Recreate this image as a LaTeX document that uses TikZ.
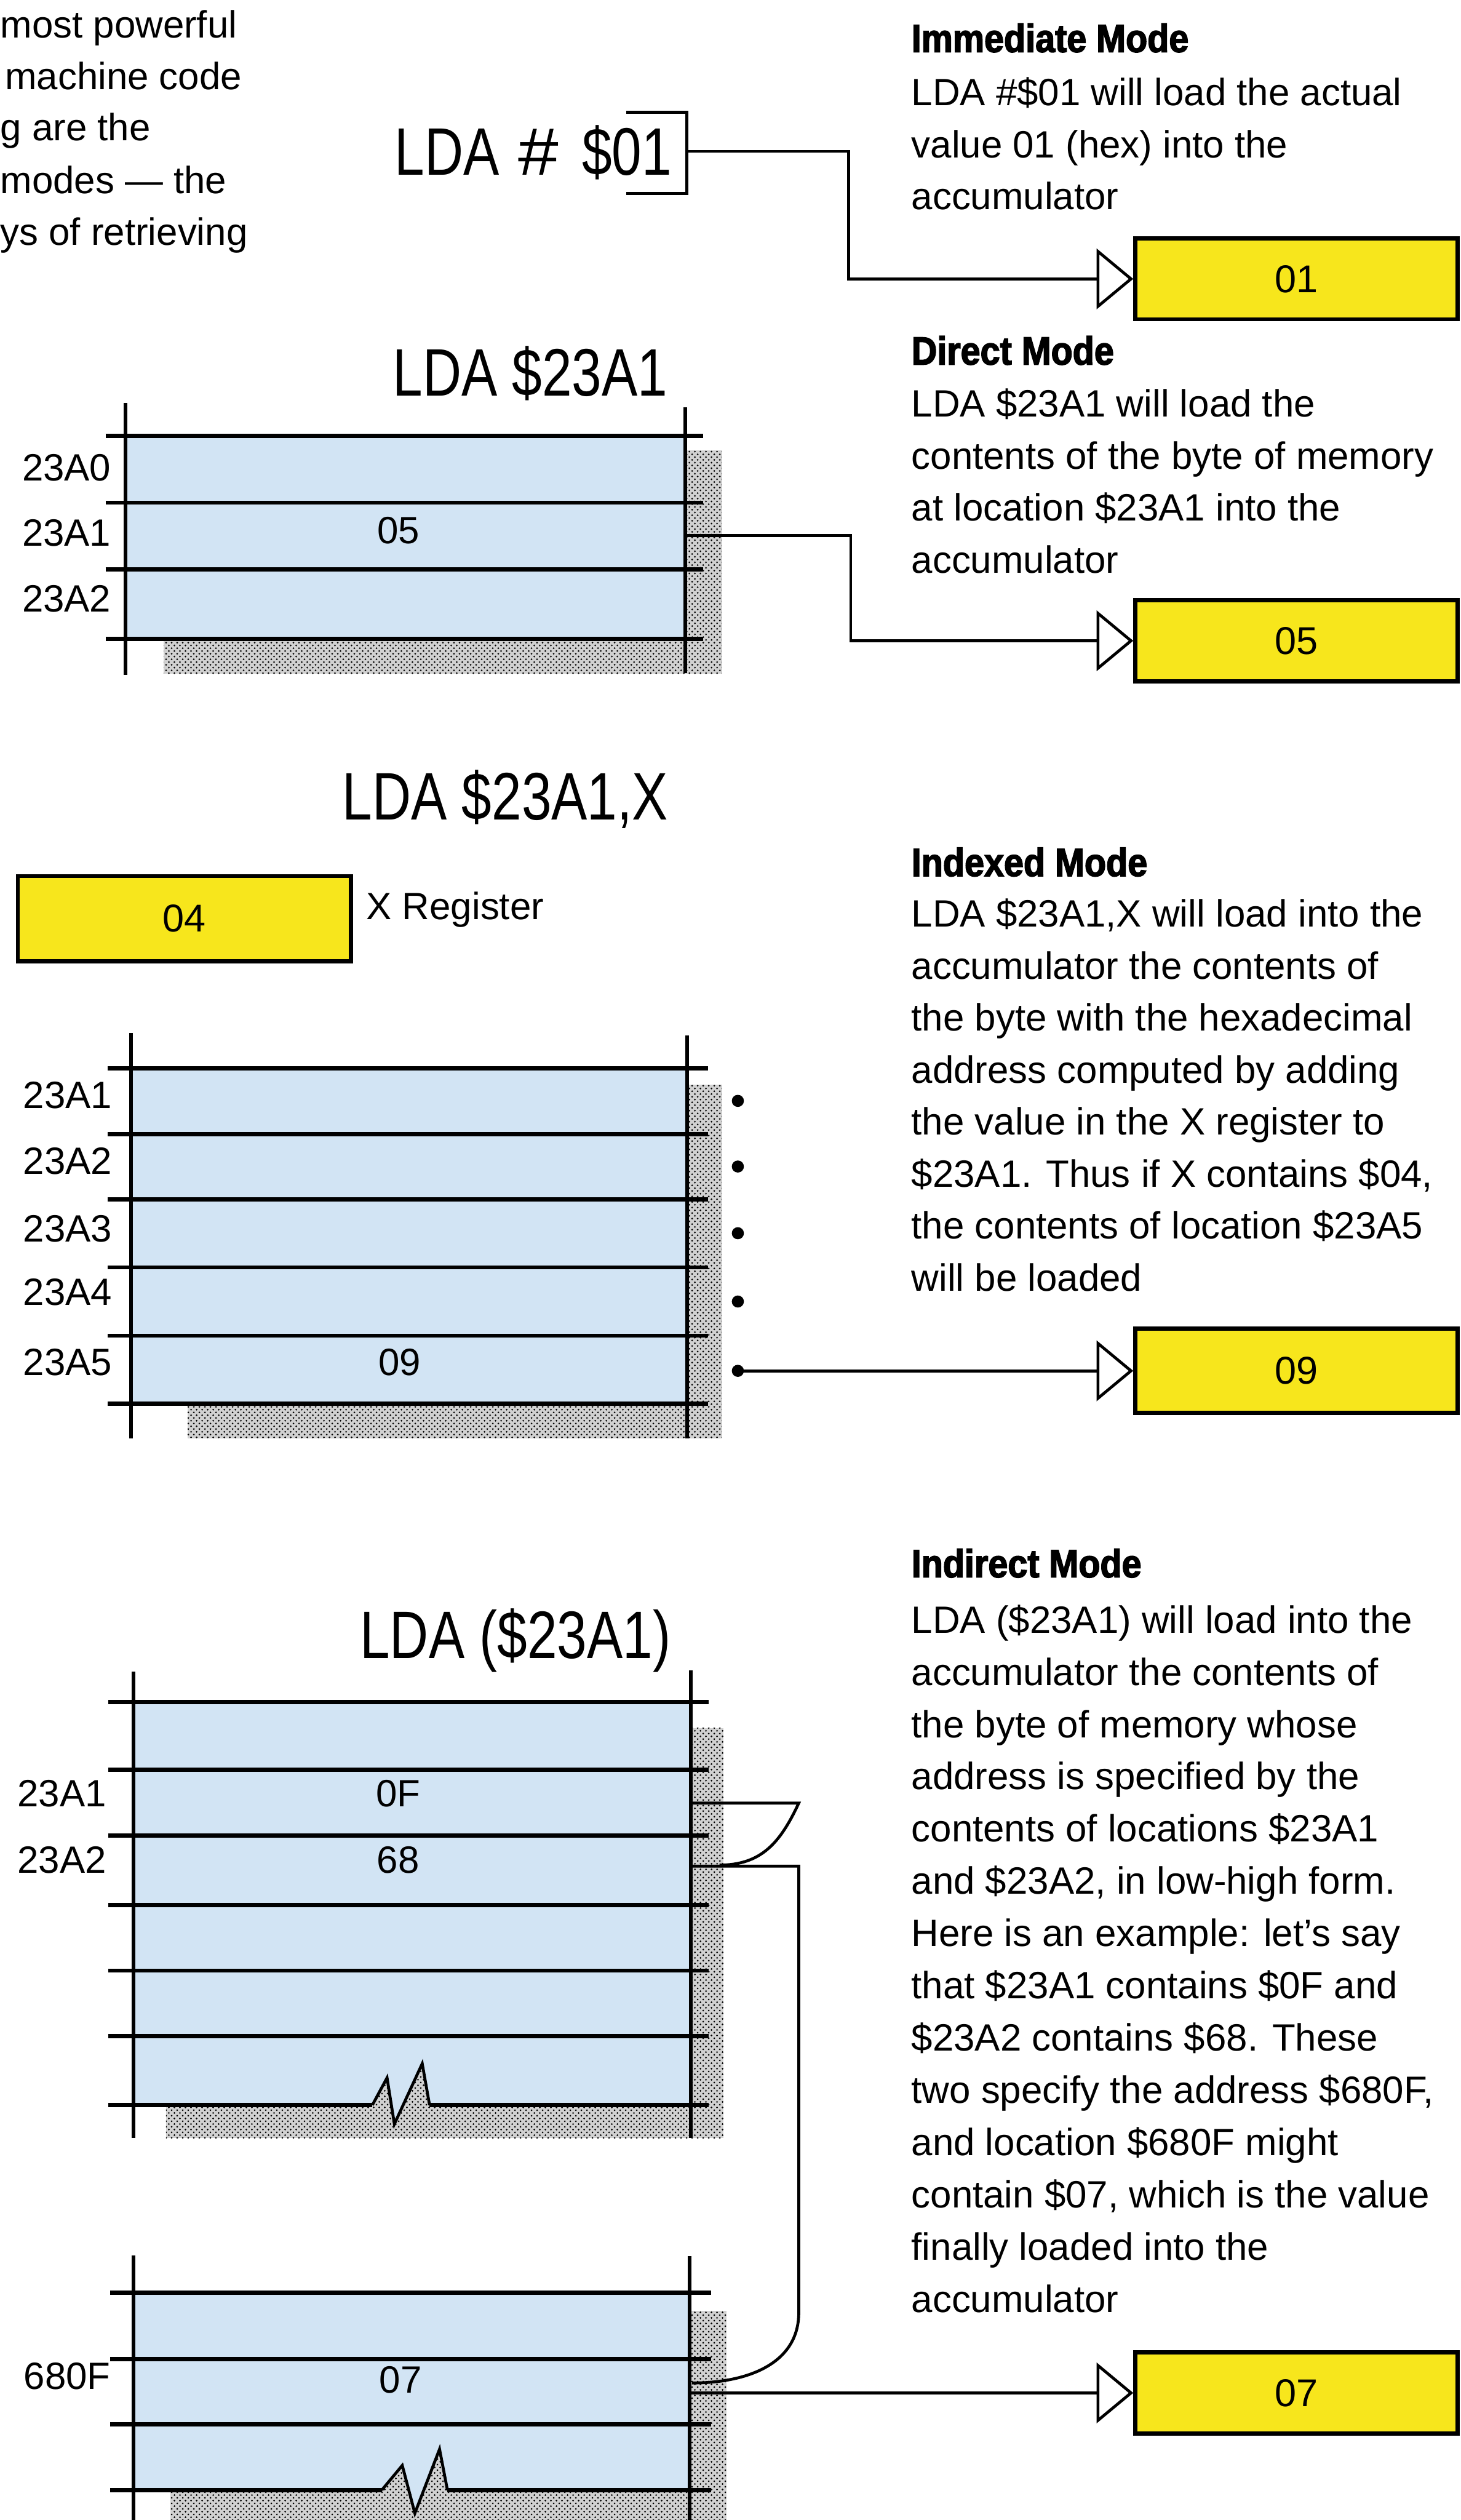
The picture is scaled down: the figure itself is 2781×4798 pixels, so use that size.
\documentclass[tikz,border=0pt]{standalone}
\usepackage{fontspec}
\setmainfont{Liberation Sans}
\newfontfamily\titlefont{Liberation Sans}[FakeStretch=0.8]
\newfontfamily\headfont{Liberation Sans}[FakeStretch=0.9,FakeBold=2.5]
\usetikzlibrary{arrows.meta,patterns}
\definecolor{cellblue}{RGB}{210,228,244}
\definecolor{accyellow}{RGB}{247,230,28}
\tikzset{
  rowline/.style={line width=0.8mm},
  sideline/.style={line width=0.7mm},
  link/.style={line width=0.55mm},
  loadarrow/.style={link,-{Triangle[open,length=7mm,width=11.5mm]}},
  shadow/.style={fill=black!18,postaction={pattern=crosshatch dots,pattern color=black}},
  body/.style={anchor=base west,inner sep=0pt,font=\fontsize{20.6pt}{28pt}\selectfont},
  head/.style={anchor=base west,inner sep=0pt,font=\headfont\bfseries\fontsize{21.3pt}{28pt}\selectfont},
  title/.style={anchor=base east,inner sep=0pt,font=\titlefont\fontsize{36.4pt}{40pt}\selectfont},
  addr/.style={anchor=base east,inner sep=0pt,font=\fontsize{20.6pt}{28pt}\selectfont},
  cellval/.style={anchor=base,inner sep=0pt,font=\fontsize{20.6pt}{28pt}\selectfont},
  accbox/.style={draw,line width=0.8mm,fill=accyellow,minimum width=61.4mm,minimum height=15.4mm,inner sep=0pt,font=\fontsize{21pt}{28pt}\selectfont},
  dot/.style={circle,fill,inner sep=0pt,minimum size=2.3mm}
}
\begin{document}
\begin{tikzpicture}[x=0.1mm,y=-0.1mm]
\useasboundingbox (0,0) rectangle (2781,4798);
\fill[white] (0,0) rectangle (2781,4798);
\clip (0,0) rectangle (2781,4798);

% text cut from the page column
\node[body] (intro1) at (0,72) {most powerful};
\node[body] (intro2) at (9,170) {machine code};
\node[body] (intro3) at (0,268) {g are the};
\node[body] (intro4) at (0,368) {modes — the};
\node[body] (intro5) at (0,467) {ys of retrieving};

% immediate mode
\node[title] (immtitle) at (1280,333) {LDA\hspace{3.6mm}\scalebox{1.35}[1]{\#}\hspace{4.5mm}\$01};
\draw[link] (1192,214) -- (1308,214) -- (1308,368) -- (1192,368);
\coordinate (immsrc) at (1308,288);
\node[accbox] (accimm) at (2469,531) {01};
\draw[loadarrow] (immsrc) -- ++(308,0) |- (accimm.west);
\node[head] (immhead) at (1735,99) {Immediate Mode};
\foreach \txt [count=\i from 0] in {{LDA \#\$01 will load the actual},{value 01 (hex) into the},{accumulator}}
  \node[body] (immtext\i) at (1735,{201+99*\i}) {\txt};

% direct mode
\node[title] (dirtitle) at (1272,754) {LDA \$23A1};
\fill[shadow] (312,857) rectangle (1375,1283);
\fill[cellblue] (239,830) rectangle (1305,1216);
\foreach \y in {830,957,1084,1216}
  \draw[rowline] (201,\y) -- (1339,\y);
\draw[sideline] (239,767) -- (239,1285);
\draw[sideline] (1305,776) -- (1305,1281);
\node[addr] (dirA0) at (212,915) {23A0};
\node[addr] (dirA1) at (212,1040) {23A1};
\node[addr] (dirA2) at (212,1165) {23A2};
\node[cellval] (dirval) at (759,1035) {05};
\coordinate (dirsrc) at (1305,1020);
\node[accbox] (accdir) at (2469,1220) {05};
\draw[loadarrow] (dirsrc) -- ++(315,0) |- (accdir.west);
\node[head] (dirhead) at (1735,694) {Direct Mode};
\foreach \txt [count=\i from 0] in {{LDA \$23A1 will load the},{contents of the byte of memory},{at location \$23A1 into the},{accumulator}}
  \node[body] (dirtext\i) at (1735,{794+99*\i}) {\txt};

% indexed mode
\node[title] (idxtitle) at (1273,1561) {LDA \$23A1,X};
\node[accbox,minimum width=63.4mm,minimum height=16.2mm] (xreg) at (351,1749) {04};
\node[body] (xlabel) at (697,1751) {X Register};
\fill[shadow] (357,2065) rectangle (1375,2739);
\fill[cellblue] (250,2034) rectangle (1308,2672);
\foreach \y in {2034,2159,2284,2413,2543,2672}
  \draw[rowline] (205,\y) -- (1348,\y);
\draw[sideline] (250,1967) -- (250,2739);
\draw[sideline] (1308,1971) -- (1308,2739);
\foreach \lab/\y [count=\i] in {23A1/2110,23A2/2235,23A3/2364,23A4/2485,23A5/2619}
  \node[addr] (idxA\i) at (214,\y) {\lab};
\foreach \y [count=\i] in {2096,2221,2348,2478,2610}
  \node[dot] (dot\i) at (1405,\y) {};
\node[cellval] (idxval) at (761,2619) {09};
\node[accbox,minimum height=16mm] (accidx) at (2469,2610) {09};
\draw[loadarrow] (dot5.center) -- (accidx.west);
\node[head] (idxhead) at (1735,1668) {Indexed Mode};
\foreach \txt [count=\i from 0] in {{LDA \$23A1,X will load into the},{accumulator the contents of},{the byte with the hexadecimal},{address computed by adding},{the value in the X register to},{\$23A1. Thus if X contains \$04,},{the contents of location \$23A5},{will be loaded}}
  \node[body] (idxtext\i) at (1735,{1765+99*\i}) {\txt};

% indirect mode, pointer bytes
\node[title] (indtitle) at (1278,3157) {LDA (\$23A1)};
\fill[shadow] (316,3290) rectangle (1378,4071);
\fill[cellblue] (254,3241) -- (1316,3241) -- (1316,4008) -- (818,4008) -- (804,3929) -- (751,4044) -- (737,3956) -- (709,4008) -- (254,4008) -- cycle;
\foreach \y in {3241,3369,3495,3627,3752,3877}
  \draw[rowline] (206,\y) -- (1349,\y);
\draw[rowline] (206,4008) -- (709,4008);
\draw[rowline] (818,4008) -- (1349,4008);
\draw[link] (709,4008) -- (737,3956) -- (751,4044) -- (804,3929) -- (818,4008);
\draw[sideline] (254,3183) -- (254,4071);
\draw[sideline] (1316,3180) -- (1316,4071);
\node[addr] (indA1) at (203,3440) {23A1};
\node[addr] (indA2) at (203,3566) {23A2};
\node[cellval] (lowval) at (758,3440) {0F};
\node[cellval] (highval) at (758,3566) {68};

% indirect mode, target byte
\fill[shadow] (325,4400) rectangle (1383,4810);
\fill[cellblue] (254,4365) -- (1313,4365) -- (1313,4741) -- (852,4741) -- (837,4663) -- (790,4785) -- (766,4694) -- (727,4741) -- (254,4741) -- cycle;
\foreach \y in {4365,4492,4616}
  \draw[rowline] (210,\y) -- (1354,\y);
\draw[rowline] (210,4741) -- (727,4741);
\draw[rowline] (852,4741) -- (1354,4741);
\draw[link] (727,4741) -- (766,4694) -- (790,4785) -- (837,4663) -- (852,4741);
\draw[sideline] (254,4294) -- (254,4810);
\draw[sideline] (1313,4296) -- (1313,4810);
\node[addr] (tgtA) at (211,4549) {680F};
\node[cellval] (tgtval) at (763,4556) {07};

% pointer connectors
\coordinate (lowsrc) at (1316,3433);
\coordinate (lowmerge) at (1370,3551);
\coordinate (highsrc) at (1316,3553);
\coordinate (tgtrow) at (1318,4537);
\coordinate (valsrc) at (1313,4556);
\draw[link] (lowsrc) -- ++(205,0) .. controls +(-35,75) and +(80,0) .. (lowmerge);
\draw[link] (highsrc) -- ++(205,0) -- ++(0,850) .. controls +(0,95) and +(110,0) .. (tgtrow);
\node[accbox] (accind) at (2469,4556) {07};
\draw[loadarrow] (valsrc) -- (accind.west);
\node[head] (indhead) at (1735,3003) {Indirect Mode};
\foreach \txt [count=\i from 0] in {{LDA (\$23A1) will load into the},{accumulator the contents of},{the byte of memory whose},{address is specified by the},{contents of locations \$23A1},{and \$23A2, in low-high form.},{Here is an example: let’s say},{that \$23A1 contains \$0F and},{\$23A2 contains \$68. These},{two specify the address \$680F,},{and location \$680F might},{contain \$07, which is the value},{finally loaded into the},{accumulator}}
  \node[body] (indtext\i) at (1735,{3109+99.5*\i}) {\txt};
\end{tikzpicture}
\end{document}
